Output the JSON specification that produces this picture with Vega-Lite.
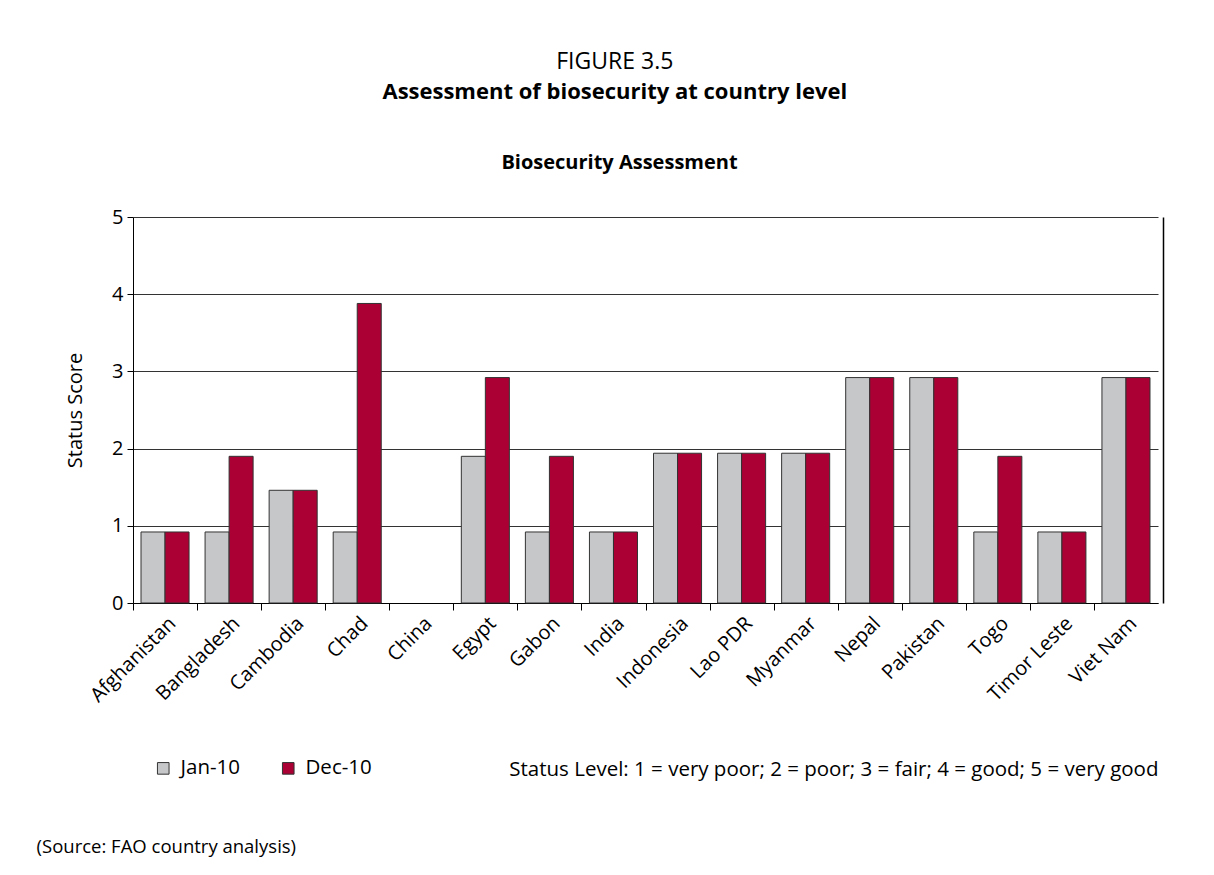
{
  "$schema": "https://vega.github.io/schema/vega-lite/v6.json",
  "background": "white",
  "padding": {"left": 36, "top": 51, "right": 5, "bottom": 5},
  "config": {
    "font": "Open Sans",
    "view": {"stroke": null},
    "axis": {"labelColor": "black", "titleColor": "black", "domainColor": "black", "tickColor": "black"},
    "title": {"color": "black", "subtitleColor": "black"}
  },
  "title": {
    "text": "FIGURE 3.5",
    "subtitle": "Assessment of biosecurity at country level",
    "fontSize": 23,
    "fontWeight": "normal",
    "subtitleFontSize": 22,
    "subtitleFontWeight": "bold",
    "subtitlePadding": 8,
    "anchor": "middle",
    "dx": 15,
    "offset": 49
  },
  "vconcat": [
    {
      "width": 1025,
      "height": 386,
      "title": {
        "text": "(Source: FAO country analysis)",
        "orient": "bottom",
        "anchor": "start",
        "fontSize": 18.5,
        "fontWeight": "normal",
        "offset": 58,
        "dx": -29
      },
      "data": {
        "values": [
          {"country": "Afghanistan", "period": "Jan-10", "score": 0.92},
          {"country": "Afghanistan", "period": "Dec-10", "score": 0.92},
          {"country": "Bangladesh", "period": "Jan-10", "score": 0.92},
          {"country": "Bangladesh", "period": "Dec-10", "score": 1.9},
          {"country": "Cambodia", "period": "Jan-10", "score": 1.46},
          {"country": "Cambodia", "period": "Dec-10", "score": 1.46},
          {"country": "Chad", "period": "Jan-10", "score": 0.92},
          {"country": "Chad", "period": "Dec-10", "score": 3.88},
          {"country": "China", "period": "Jan-10", "score": null},
          {"country": "China", "period": "Dec-10", "score": null},
          {"country": "Egypt", "period": "Jan-10", "score": 1.9},
          {"country": "Egypt", "period": "Dec-10", "score": 2.92},
          {"country": "Gabon", "period": "Jan-10", "score": 0.92},
          {"country": "Gabon", "period": "Dec-10", "score": 1.9},
          {"country": "India", "period": "Jan-10", "score": 0.92},
          {"country": "India", "period": "Dec-10", "score": 0.92},
          {"country": "Indonesia", "period": "Jan-10", "score": 1.94},
          {"country": "Indonesia", "period": "Dec-10", "score": 1.94},
          {"country": "Lao PDR", "period": "Jan-10", "score": 1.94},
          {"country": "Lao PDR", "period": "Dec-10", "score": 1.94},
          {"country": "Myanmar", "period": "Jan-10", "score": 1.94},
          {"country": "Myanmar", "period": "Dec-10", "score": 1.94},
          {"country": "Nepal", "period": "Jan-10", "score": 2.92},
          {"country": "Nepal", "period": "Dec-10", "score": 2.92},
          {"country": "Pakistan", "period": "Jan-10", "score": 2.92},
          {"country": "Pakistan", "period": "Dec-10", "score": 2.92},
          {"country": "Togo", "period": "Jan-10", "score": 0.92},
          {"country": "Togo", "period": "Dec-10", "score": 1.9},
          {"country": "Timor Leste", "period": "Jan-10", "score": 0.92},
          {"country": "Timor Leste", "period": "Dec-10", "score": 0.92},
          {"country": "Viet Nam", "period": "Jan-10", "score": 2.92},
          {"country": "Viet Nam", "period": "Dec-10", "score": 2.92}
        ]
      },
      "layer": [
        {
          "mark": {"type": "bar", "stroke": "#333", "strokeWidth": 1},
          "encoding": {
            "x": {
              "field": "country",
              "type": "nominal",
              "scale": {
                "domain": ["Afghanistan", "Bangladesh", "Cambodia", "Chad", "China", "Egypt", "Gabon", "India", "Indonesia", "Lao PDR", "Myanmar", "Nepal", "Pakistan", "Togo", "Timor Leste", "Viet Nam"],
                "paddingInner": 0.25,
                "paddingOuter": 0.125
              },
              "axis": {
                "title": "Status Level: 1 = very poor; 2 = poor; 3 = fair; 4 = good; 5 = very good",
                "titleFontSize": 20.5,
                "titleFontWeight": "normal",
                "titleAnchor": "end",
                "titleX": 1025,
                "titleY": 166,
                "titleAlign": "right",
                "titleBaseline": "middle",
                "labelAngle": -45,
                "labelFontSize": 20,
                "tickOffset": -32,
                "labelOffset": 32,
                "tickSize": 7,
                "labelPadding": 3,
                "grid": false
              }
            },
            "xOffset": {"field": "period", "sort": ["Jan-10", "Dec-10"], "scale": {"paddingInner": 0, "paddingOuter": 0}},
            "y": {
              "field": "score",
              "type": "quantitative",
              "scale": {"domain": [0, 5], "nice": false},
              "axis": {
                "values": [0, 1, 2, 3, 4, 5],
                "title": "Status Score",
                "titleFontSize": 20,
                "titleFontWeight": "normal",
                "titlePadding": 26,
                "labelFontSize": 20,
                "labelPadding": 4,
                "tickSize": 6,
                "grid": true,
                "gridColor": "#333",
                "gridWidth": 1
              }
            },
            "color": {
              "field": "period",
              "type": "nominal",
              "scale": {"domain": ["Jan-10", "Dec-10"], "range": ["#c6c7c9", "#aa0033"]},
              "legend": {
                "orient": "none",
                "legendX": 20,
                "legendY": 541,
                "direction": "horizontal",
                "title": null,
                "symbolType": "square",
                "symbolSize": 135,
                "symbolStrokeColor": "#333",
                "symbolStrokeWidth": 1,
                "labelFontSize": 20.5,
                "labelColor": "black",
                "labelOffset": 7,
                "columnPadding": 37
              }
            }
          }
        },
        {
          "mark": {"type": "bar", "opacity": 0},
          "encoding": {
            "x": {
              "field": "country",
              "type": "nominal",
              "axis": {
                "orient": "top",
                "domain": false,
                "ticks": false,
                "labels": false,
                "title": "Biosecurity Assessment",
                "titleFontSize": 20,
                "titleFontWeight": "bold",
                "titlePadding": 45,
                "titleX": 486
              }
            },
            "y": {
              "field": "score",
              "type": "quantitative",
              "axis": {
                "orient": "right",
                "domain": true,
                "domainWidth": 1.5,
                "ticks": false,
                "labels": false,
                "grid": false,
                "title": null,
                "offset": 5
              }
            }
          }
        }
      ],
      "resolve": {"axis": {"x": "independent", "y": "independent"}}
    }
  ]
}
